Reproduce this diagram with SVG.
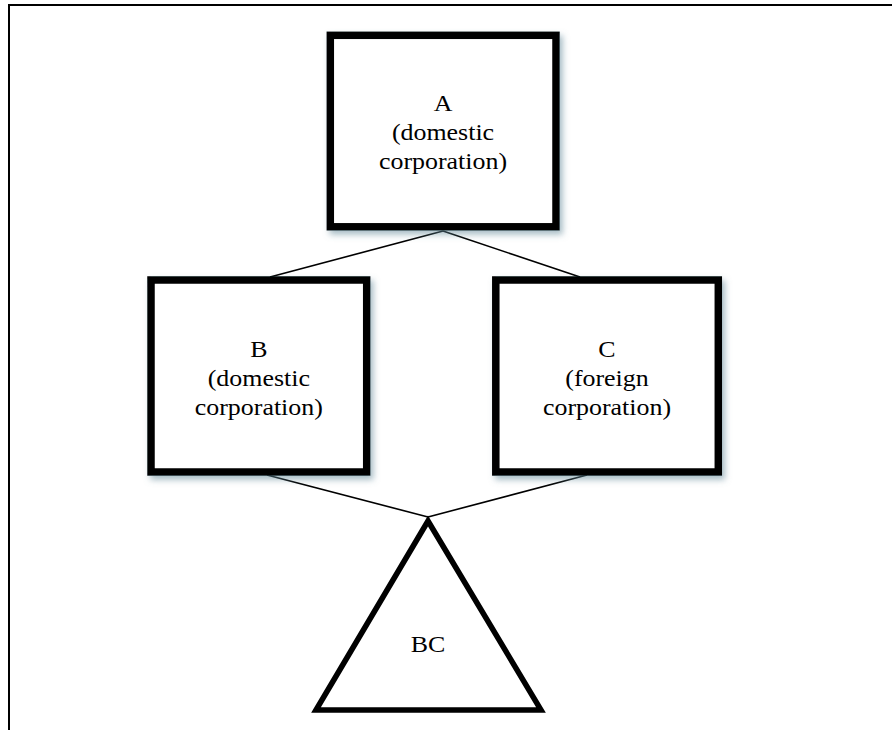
<svg xmlns="http://www.w3.org/2000/svg" width="892" height="730" viewBox="0 0 892 730">
  <defs>
    <filter id="shadow" x="-10%" y="-10%" width="125%" height="125%">
      <feDropShadow dx="3" dy="4" stdDeviation="3" flood-color="#5f8595" flood-opacity="0.55"/>
    </filter>
  </defs>
  <style>
    .frame { fill: none; stroke: #000; stroke-width: 2; }
    .box { fill: #fff; stroke: #000; stroke-width: 7.5; filter: url(#shadow); }
    .tri { fill: #fff; stroke: #000; stroke-width: 5.5; stroke-linejoin: miter; }
    .conn { stroke: #000; stroke-width: 1.6; fill: none; }
    .lbl { font-family: "Liberation Serif", "Times New Roman", serif; font-size: 24px; fill: #000; text-anchor: middle; }
  </style>
  <rect width="892" height="730" fill="#fff"/>
  <g id="frame">
    <polyline class="frame" points="9,730 9,5 892,5"/>
  </g>
  <g id="connectors">
    <line class="conn" x1="443" y1="231" x2="270" y2="277"/>
    <line class="conn" x1="443" y1="231" x2="580" y2="277"/>
    <line class="conn" x1="267" y1="475" x2="428" y2="517"/>
    <line class="conn" x1="587" y1="475" x2="428" y2="517"/>
  </g>
  <g id="nodeA">
    <rect class="box" x="330.3" y="35.3" width="225.7" height="191.5"/>
    <g transform="translate(443 0) scale(1.08 1)">
      <text class="lbl" x="0" y="111">A</text>
      <text class="lbl" x="0" y="140">(domestic</text>
      <text class="lbl" x="0" y="169.5">corporation)</text>
    </g>
  </g>
  <g id="nodeB">
    <rect class="box" x="151" y="280" width="215.7" height="192"/>
    <g transform="translate(258.8 0) scale(1.08 1)">
      <text class="lbl" x="0" y="357">B</text>
      <text class="lbl" x="0" y="386">(domestic</text>
      <text class="lbl" x="0" y="415.5">corporation)</text>
    </g>
  </g>
  <g id="nodeC">
    <rect class="box" x="495.8" y="280" width="222.5" height="192"/>
    <g transform="translate(607 0) scale(1.08 1)">
      <text class="lbl" x="0" y="357">C</text>
      <text class="lbl" x="0" y="386">(foreign</text>
      <text class="lbl" x="0" y="415.5">corporation)</text>
    </g>
  </g>
  <g id="nodeBC">
    <polygon class="tri" points="316,710 428,521 541,710"/>
    <g transform="translate(428 0) scale(1.08 1)">
      <text class="lbl" x="0" y="652">BC</text>
    </g>
  </g>
</svg>
